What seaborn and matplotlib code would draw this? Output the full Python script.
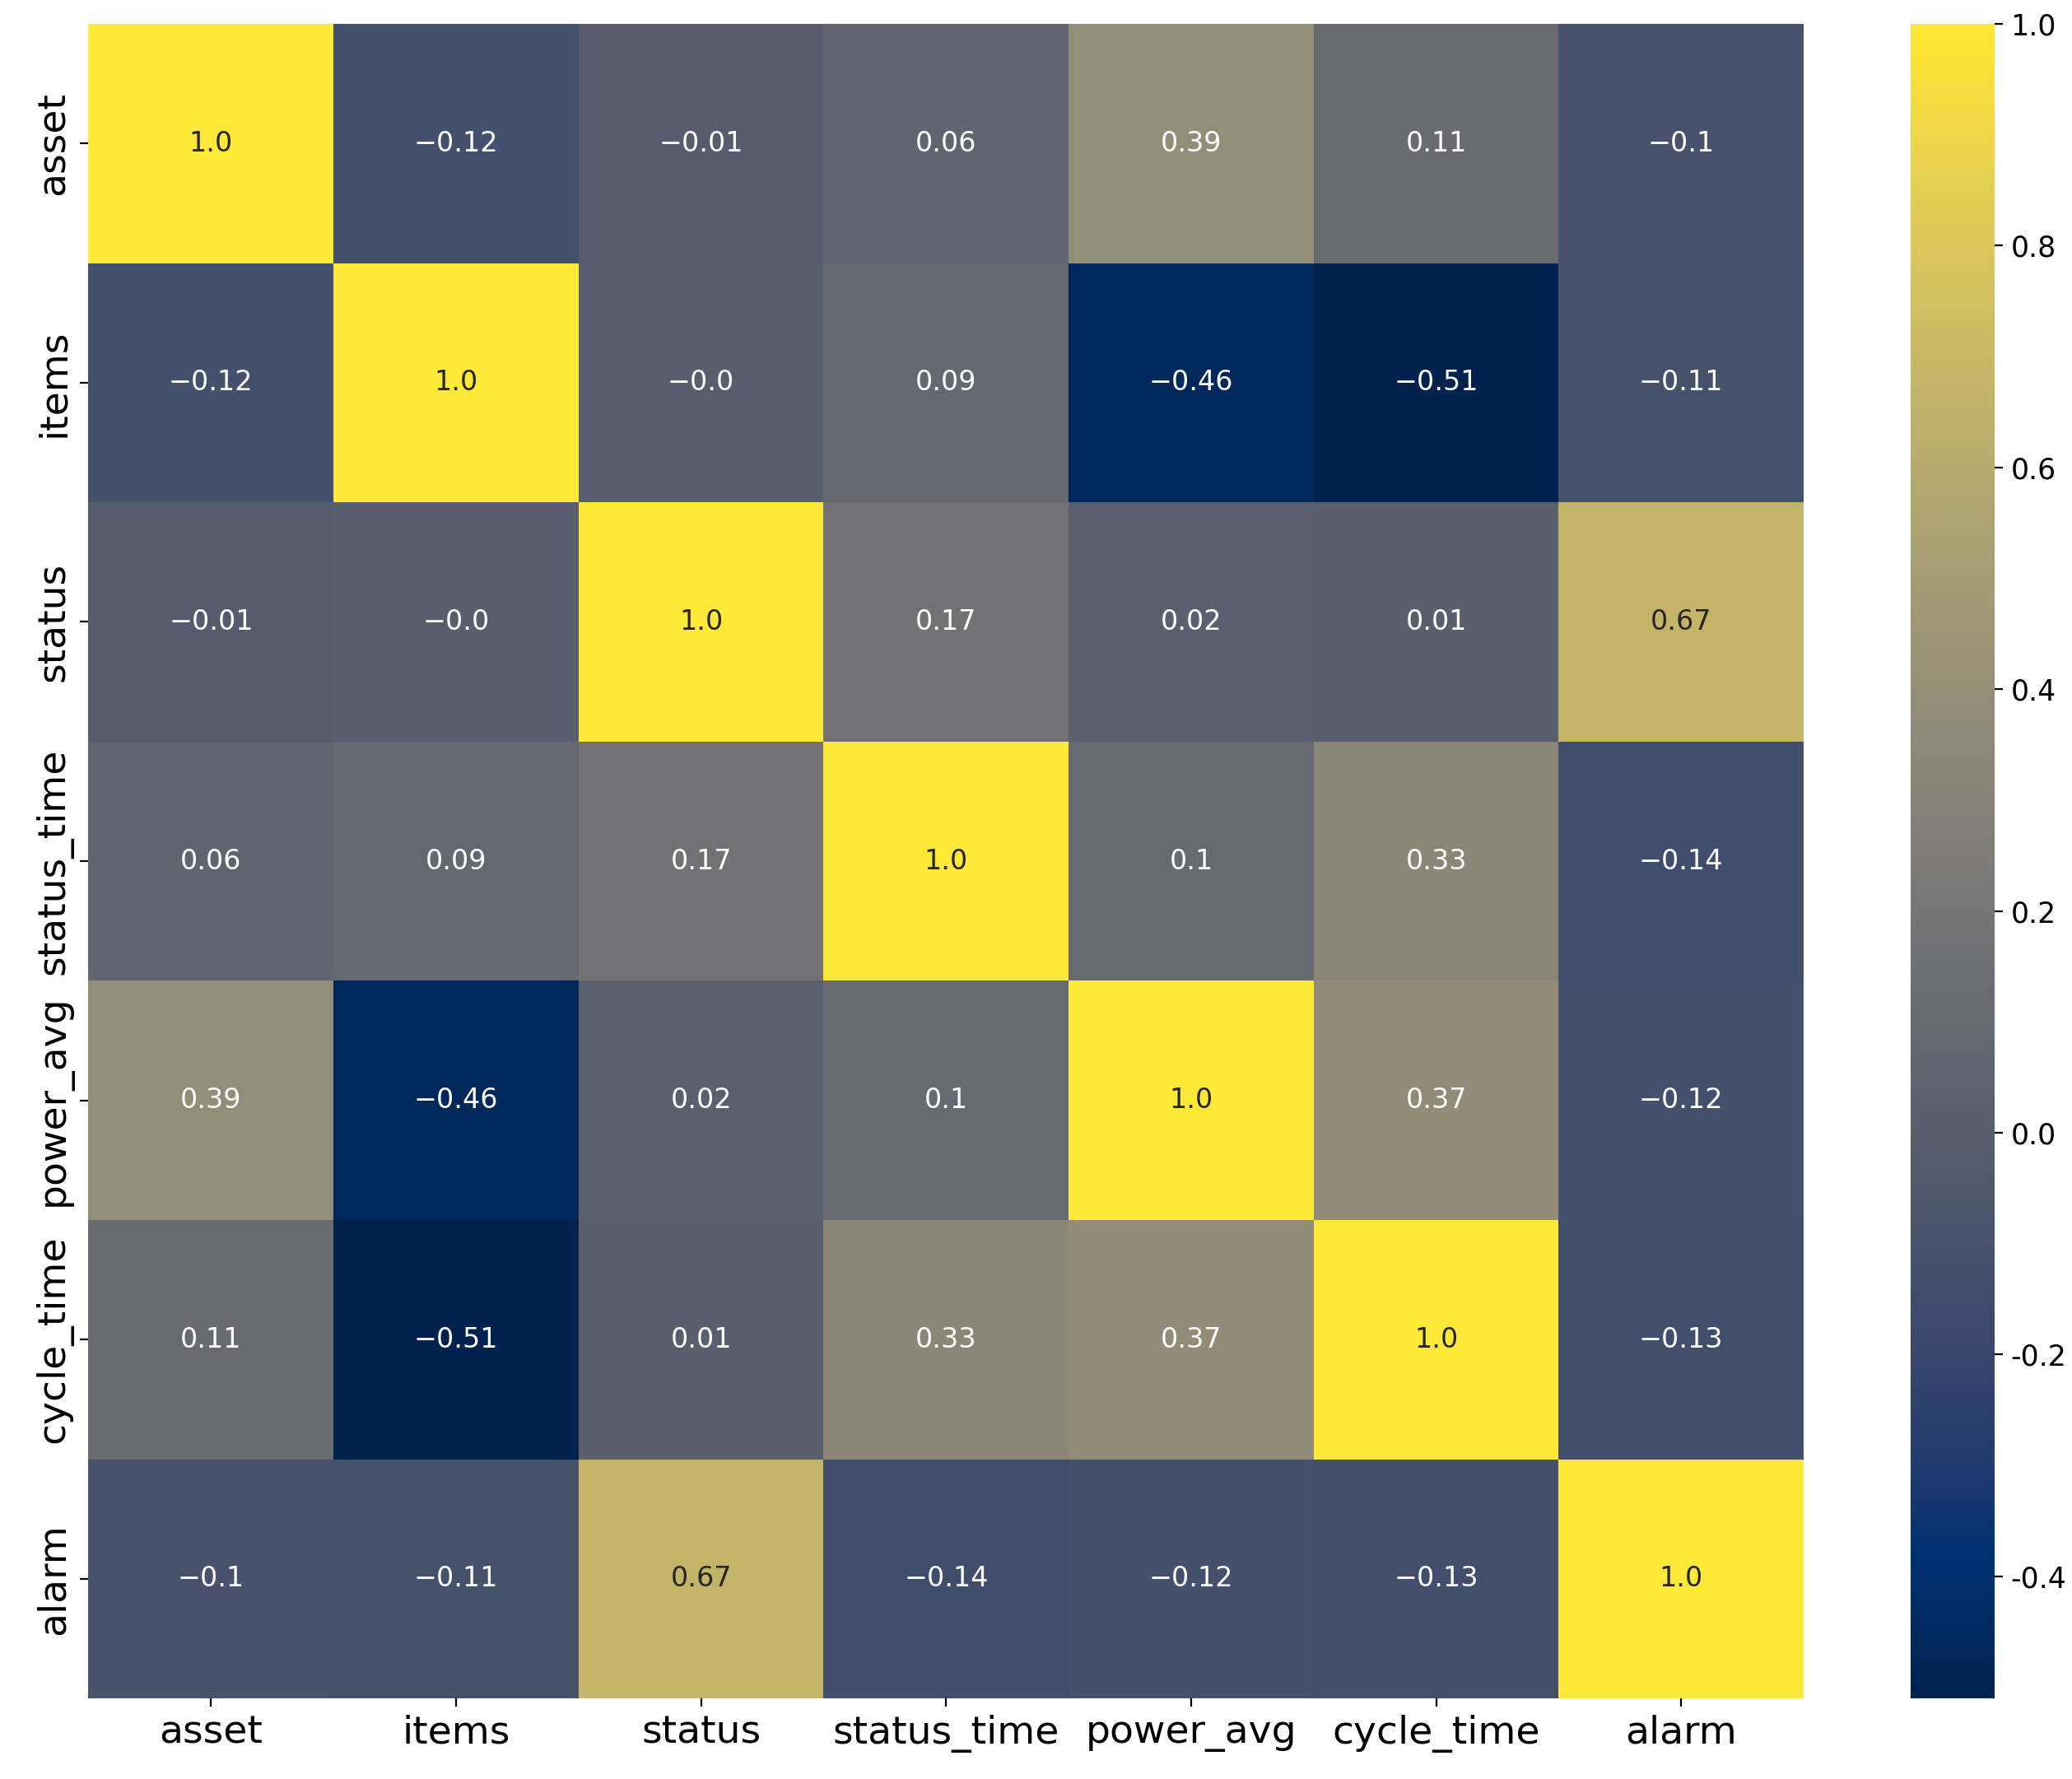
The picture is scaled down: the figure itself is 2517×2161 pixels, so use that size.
import pandas as pd
import numpy as np
import matplotlib
matplotlib.use('Agg')
import matplotlib.pyplot as plt
import seaborn as sns

plt.rcParams['axes.unicode_minus'] = False

cols = ['asset', 'items', 'status', 'status_time', 'power_avg', 'cycle_time', 'alarm']
asset = [1.0, -0.12, -0.01, 0.06, 0.39, 0.11, -0.1]
items = [-0.12, 1.0, -0.0, 0.09, -0.46, -0.51, -0.11]
status = [-0.01, -0.0, 1.0, 0.17, 0.02, 0.01, 0.67]
status_time = [0.06, 0.09, 0.17, 1.0, 0.1, 0.33, -0.14]
power_avg = [0.39, -0.46, 0.02, 0.1, 1.0, 0.37, -0.12]
cycle_time = [0.11, -0.51, 0.01, 0.33, 0.37, 1.0, -0.13]
alarm = [-0.1, -0.11, 0.67, -0.14, -0.12, -0.13, 1.0]

corr = pd.DataFrame([asset, items, status, status_time, power_avg, cycle_time, alarm],
                    index=cols, columns=cols)
# annotation text with a real minus sign
labels = corr.map(lambda v: str(v).replace('-', '\u2212'))

fig = plt.figure(figsize=(2517 / 200, 2161 / 200), dpi=200)
ax = fig.add_axes([0.0427, 0.0453, 0.8278, 0.9413])
cax = fig.add_axes([0.9221, 0.0453, 0.0406, 0.9413])

sns.heatmap(corr, annot=labels, fmt='', cmap='cividis', ax=ax, cbar_ax=cax,
            annot_kws={'size': 12})
ax.set_xticklabels(cols, fontsize=17, rotation=0)
ax.set_yticklabels(cols, fontsize=17, rotation=90, va='center')
cax.tick_params(labelsize=12.5)

plt.savefig('out.png', dpi=200)
